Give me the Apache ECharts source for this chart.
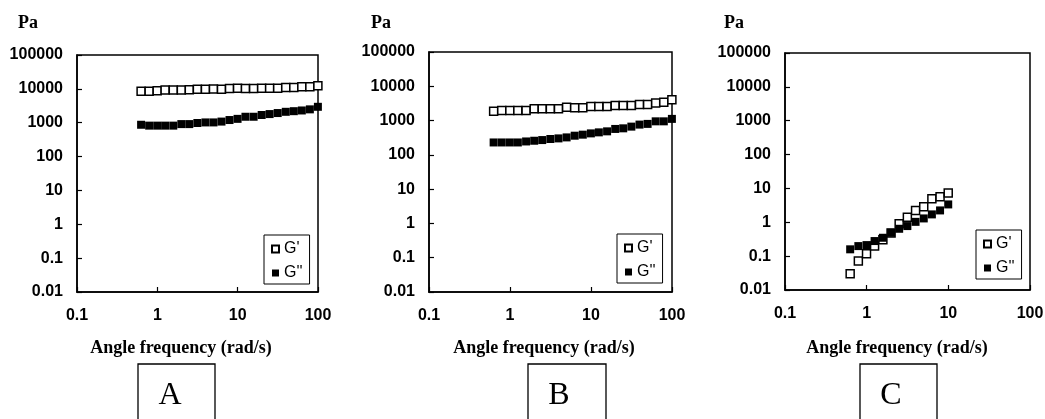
<!DOCTYPE html>
<html>
<head>
<meta charset="utf-8">
<title>G' / G'' frequency sweep</title>
<script src="https://cdn.jsdelivr.net/npm/echarts@6/dist/echarts.min.js"></script>
<style>
  html, body { margin: 0; padding: 0; background: #fff; }
  #chart { width: 1045px; height: 419px; }
</style>
</head>
<body>
<div id="chart"></div>
<script>
// 角頻率 (rad/s)，A、B 有 23 個點，C 只到 10 rad/s
const freqAB = [0.628, 0.791, 0.996, 1.25, 1.58, 1.99, 2.5, 3.15, 3.97, 5, 6.29, 7.92,
  9.97, 12.5, 15.8, 19.9, 25, 31.5, 39.7, 50, 62.9, 79.2, 99.7]
const freqC = [0.628, 0.791, 0.996, 1.25, 1.58, 1.99, 2.5, 3.15, 3.97, 5, 6.29, 7.92, 9.97]

// 儲能模量 G' 和損耗模量 G'' (Pa)
const storageA = [8500, 8500, 8800, 9200, 9200, 9200, 9400, 9800, 9800, 9900, 9800, 10300,
  10400, 10300, 10300, 10400, 10400, 10500, 10900, 10900, 11500, 11600, 12400]
const lossA = [870, 820, 820, 820, 820, 910, 910, 980, 1020, 1020, 1080, 1200,
  1300, 1500, 1500, 1690, 1800, 1930, 2100, 2190, 2300, 2480, 2950]

const storageB = [1880, 1970, 1970, 1970, 1970, 2210, 2210, 2210, 2210, 2460, 2360, 2360,
  2580, 2580, 2580, 2760, 2760, 2760, 2950, 2950, 3230, 3450, 4060]
const lossB = [230, 230, 230, 230, 246, 258, 270, 290, 302, 323, 362, 388,
  423, 453, 485, 570, 594, 666, 763, 800, 950, 950, 1120]

const storageC = [0.030, 0.072, 0.118, 0.199, 0.305, 0.48, 0.90, 1.42, 2.24, 2.87, 4.93, 5.65, 7.27]
const lossC = [0.159, 0.198, 0.212, 0.279, 0.349, 0.49, 0.643, 0.773, 1.03, 1.30, 1.71, 2.24, 3.37]

// 坐標軸範圍
const xRange = [0.1, 100]
const yRange = [0.01, 100000]
const panelLetters = ['A', 'B', 'C']

const sans = '"Liberation Sans", Arial, sans-serif'
const serif = '"Liberation Serif", "Times New Roman", serif'

// 三個子圖的位置
const grids = [
  { left: 77, top: 55, width: 241, height: 237 },
  { left: 429, top: 52, width: 243, height: 240 },
  { left: 785, top: 53, width: 245, height: 237 }
]
const legendPos = [
  { left: 264, top: 235 },
  { left: 617, top: 234 },
  { left: 976, top: 230 }
]
const paPos = [[28, 23], [381, 23], [734, 23]]
const titlePos = [[181, 348], [544, 348], [897, 348]]
const boxPos = [[138, 77], [528, 78], [860, 77]]
const letterPos = [[170, 396], [559, 396], [891, 396]]

// 對數軸的刻度文字，去掉浮點誤差和千分位
function logLabel(v) {
  return String(Number(Number(v).toPrecision(6)))
}

function pairs(xs, ys) {
  return ys.map((y, i) => [xs[i], y])
}

const panels = [
  { x: freqAB, g1: storageA, g2: lossA },
  { x: freqAB, g1: storageB, g2: lossB },
  { x: freqC, g1: storageC, g2: lossC }
]

const axisLine = { lineStyle: { color: '#000', width: 1.5 } }
const axisTick = { inside: true, length: 5, lineStyle: { color: '#000', width: 1.2 } }

const xAxis = grids.map((g, i) => ({
  type: 'log',
  logBase: 10,
  gridIndex: i,
  min: xRange[0],
  max: xRange[1],
  splitNumber: 3,
  axisLine,
  axisTick,
  splitLine: { show: false },
  axisLabel: {
    margin: 16,
    color: '#000',
    fontFamily: sans,
    fontWeight: 'bold',
    fontSize: 16,
    showMinLabel: true,
    showMaxLabel: true,
    formatter: logLabel
  }
}))

const yAxis = grids.map((g, i) => ({
  type: 'log',
  logBase: 10,
  gridIndex: i,
  min: yRange[0],
  max: yRange[1],
  splitNumber: 7,
  axisLine,
  axisTick,
  splitLine: { show: false },
  axisLabel: {
    margin: 14,
    color: '#000',
    fontFamily: sans,
    fontWeight: 'bold',
    fontSize: 16,
    showMinLabel: true,
    showMaxLabel: true,
    formatter: logLabel
  }
}))

const series = []
panels.forEach((p, i) => {
  // G' 空心方塊
  series.push({
    name: "G'",
    type: 'scatter',
    xAxisIndex: i,
    yAxisIndex: i,
    symbol: 'rect',
    symbolSize: 8,
    data: pairs(p.x, p.g1),
    itemStyle: { color: '#fff', borderColor: '#000', borderWidth: 1.5, opacity: 1 }
  })
  // G'' 實心方塊
  series.push({
    name: "G''",
    type: 'scatter',
    xAxisIndex: i,
    yAxisIndex: i,
    symbol: 'rect',
    symbolSize: 8,
    data: pairs(p.x, p.g2),
    itemStyle: { color: '#000', opacity: 1 }
  })
})

const legend = legendPos.map(pos => ({
  left: pos.left,
  top: pos.top,
  orient: 'vertical',
  data: ["G'", "G''"],
  selectedMode: false,
  itemWidth: 7,
  itemHeight: 7,
  itemGap: 8,
  padding: [6, 7, 3, 7],
  borderColor: '#000',
  borderWidth: 1,
  textStyle: { color: '#000', fontFamily: sans, fontSize: 16, lineHeight: 16 }
}))

const graphic = []
panelLetters.forEach((letter, i) => {
  graphic.push({
    type: 'text',
    x: paPos[i][0],
    y: paPos[i][1],
    style: { text: 'Pa', font: 'bold 18px ' + serif, fill: '#000', textAlign: 'center', textVerticalAlign: 'middle' }
  })
  graphic.push({
    type: 'text',
    x: titlePos[i][0],
    y: titlePos[i][1],
    style: { text: 'Angle frequency (rad/s)', font: 'bold 18px ' + serif, fill: '#000', textAlign: 'center', textVerticalAlign: 'middle' }
  })
  // 子圖下方的字母框
  graphic.push({
    type: 'rect',
    shape: { x: boxPos[i][0], y: 364, width: boxPos[i][1], height: 70 },
    style: { fill: 'none', stroke: '#000', lineWidth: 1.3 }
  })
  graphic.push({
    type: 'text',
    x: letterPos[i][0],
    y: letterPos[i][1],
    style: { text: letter, font: '32px ' + serif, fill: '#000', textAlign: 'center', textVerticalAlign: 'middle' }
  })
})

const chart = echarts.init(document.getElementById('chart'))
chart.setOption({
  animation: false,
  backgroundColor: '#fff',
  grid: grids.map(g => Object.assign({
    show: true,
    borderColor: '#000',
    borderWidth: 1.5,
    backgroundColor: 'transparent',
    containLabel: false,
    outerBoundsMode: 'none'
  }, g)),
  xAxis,
  yAxis,
  legend,
  series,
  graphic
})
</script>
</body>
</html>
